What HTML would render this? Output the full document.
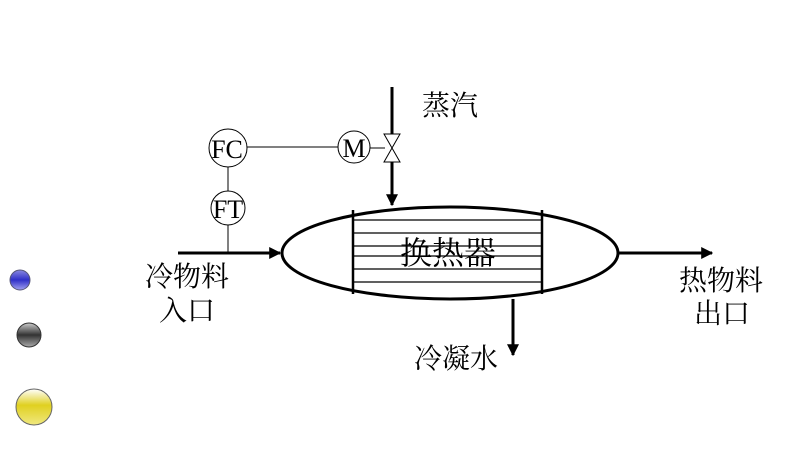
<!DOCTYPE html>
<html><head><meta charset="utf-8"><style>
body{margin:0;background:#fff;}
svg text{font-family:"Liberation Serif","Noto Serif CJK SC",serif;fill:#000;}
</style></head><body>
<svg width="786" height="458" viewBox="0 0 786 458" xmlns="http://www.w3.org/2000/svg">
<defs>
<marker id="a" viewBox="0 0 10 10" refX="9" refY="5" markerWidth="4" markerHeight="4" orient="auto"><path d="M0,0L10,5L0,10z" fill="#000"/></marker>
<linearGradient id="gb" x1="0" y1="0" x2="0" y2="1"><stop offset="0" stop-color="#8a8ae0"/><stop offset="0.5" stop-color="#3030c8"/><stop offset="1" stop-color="#a0a0f0"/></linearGradient>
<linearGradient id="gg" x1="0" y1="0" x2="0" y2="1"><stop offset="0" stop-color="#ccc"/><stop offset="0.5" stop-color="#333"/><stop offset="1" stop-color="#aaa"/></linearGradient>
<linearGradient id="gy" x1="0" y1="0" x2="0" y2="1"><stop offset="0" stop-color="#fff"/><stop offset="0.45" stop-color="#e0d020"/><stop offset="1" stop-color="#f0e880"/></linearGradient>
</defs>
<circle cx="20" cy="280" r="10" fill="url(#gb)" stroke="#557"/>
<circle cx="29" cy="335" r="12" fill="url(#gg)" stroke="#333"/>
<circle cx="34" cy="407" r="18" fill="url(#gy)" stroke="#666"/>
<ellipse cx="450" cy="253" rx="168" ry="46" fill="none" stroke="#000" stroke-width="3"/>
<g stroke="#000" stroke-width="1.2">
<line x1="353" y1="220" x2="542" y2="220"/><line x1="353" y1="233" x2="542" y2="233"/>
<line x1="353" y1="246" x2="542" y2="246"/><line x1="353" y1="256" x2="542" y2="256"/>
<line x1="353" y1="269" x2="542" y2="269"/><line x1="353" y1="282" x2="542" y2="282"/>
</g>
<line x1="353" y1="210" x2="353" y2="294" stroke="#000" stroke-width="2.5"/>
<line x1="542" y1="210" x2="542" y2="294" stroke="#000" stroke-width="2.5"/>
<text x="448" y="264" font-size="32" text-anchor="middle">换热器</text>
<line x1="392" y1="87" x2="392" y2="134" stroke="#000" stroke-width="3"/>
<line x1="392" y1="162" x2="392" y2="205" stroke="#000" stroke-width="3" marker-end="url(#a)"/>
<path d="M384,134L400,134L384,162L400,162z" fill="#fff" stroke="#000" stroke-width="1"/>
<line x1="370" y1="148" x2="385" y2="148" stroke="#000"/>
<line x1="247" y1="147" x2="338" y2="147" stroke="#000"/>
<line x1="228" y1="167" x2="228" y2="191" stroke="#000"/>
<line x1="228" y1="225" x2="228" y2="253" stroke="#000"/>
<circle cx="354" cy="147" r="16" fill="#fff" stroke="#000"/>
<text x="354" y="157" font-size="26" text-anchor="middle">M</text>
<circle cx="228" cy="148" r="19" fill="#fff" stroke="#000"/>
<text x="227" y="158" font-size="26" text-anchor="middle">FC</text>
<circle cx="228" cy="208" r="17" fill="#fff" stroke="#000"/>
<text x="228" y="218" font-size="26" text-anchor="middle">FT</text>
<line x1="178" y1="253" x2="280" y2="253" stroke="#000" stroke-width="3" marker-end="url(#a)"/>
<line x1="618" y1="253" x2="712" y2="253" stroke="#000" stroke-width="3" marker-end="url(#a)"/>
<line x1="513" y1="299" x2="513" y2="355" stroke="#000" stroke-width="3" marker-end="url(#a)"/>
<g font-size="28">
<text x="422" y="115">蒸汽</text>
<text x="145" y="286">冷物料</text>
<text x="159" y="320">入口</text>
<text x="679" y="290">热物料</text>
<text x="694" y="323">出口</text>
<text x="414" y="368">冷凝水</text>
</g>
</svg>
</body></html>
